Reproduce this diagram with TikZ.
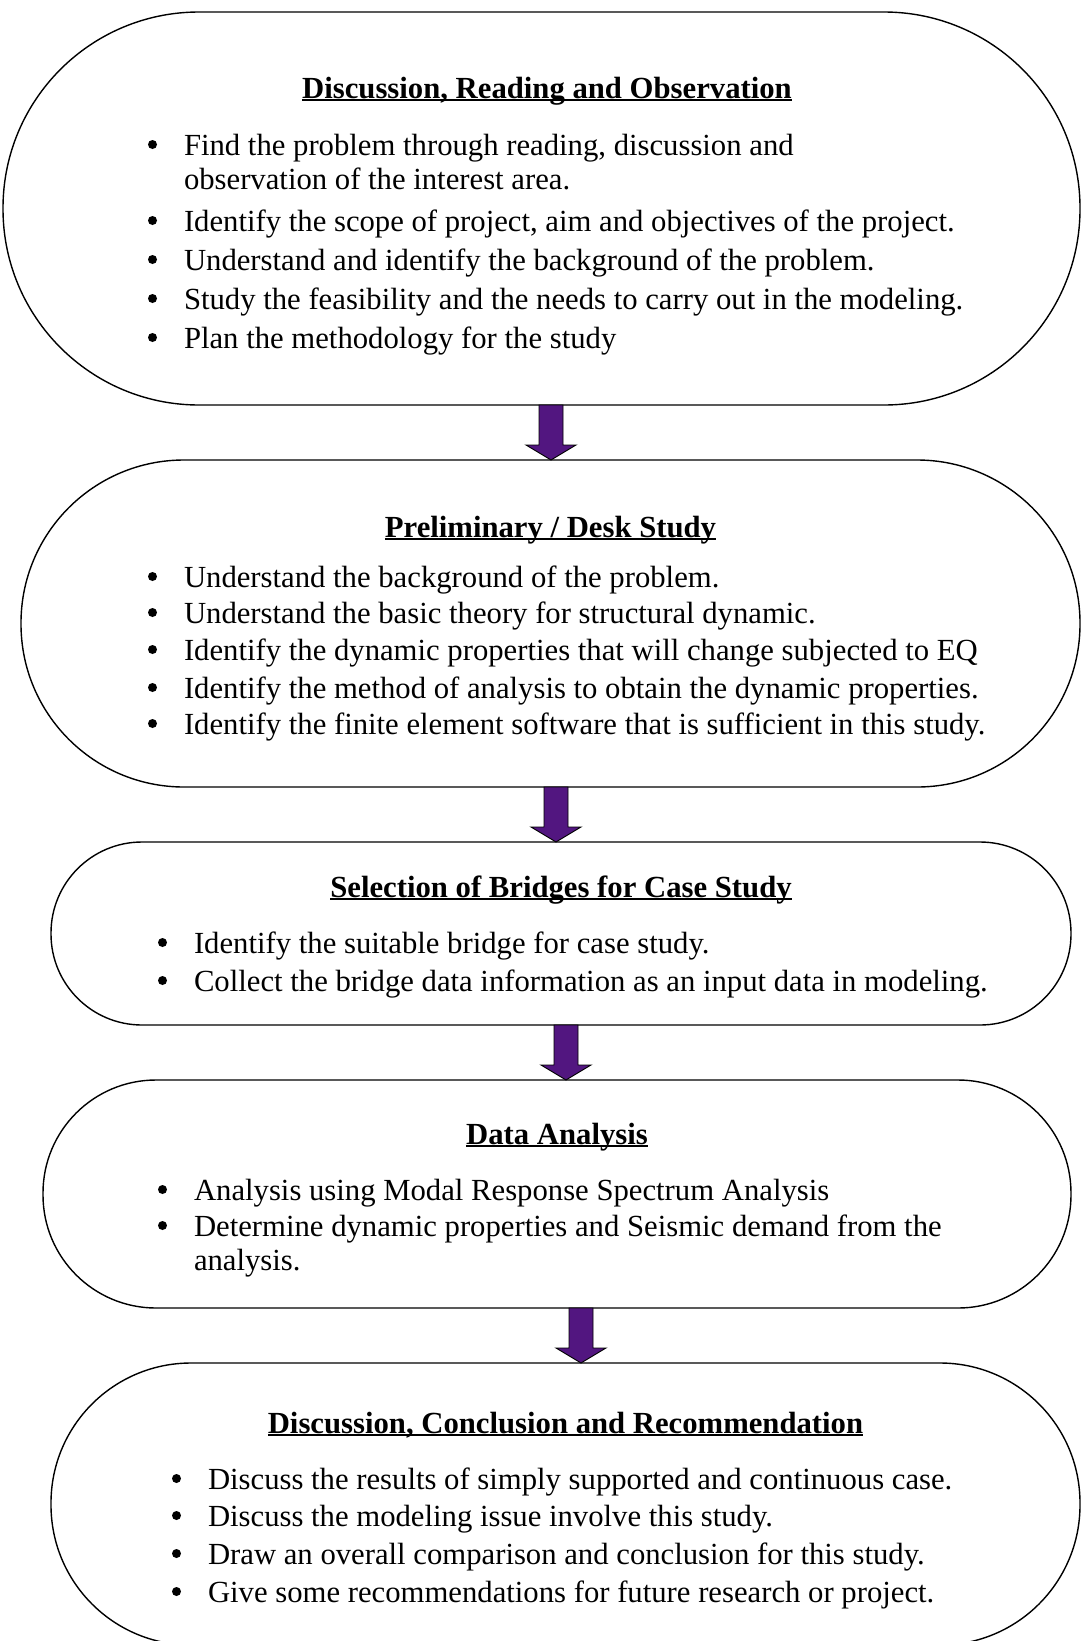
\documentclass[tikz,border=0pt]{standalone}
\usepackage{fontspec}
\setmainfont{Liberation Serif}
\usetikzlibrary{calc}
\definecolor{arrowpurple}{RGB}{82,22,128}
\newcommand\ttl[1]{\setbox0=\hbox{\bfseries #1}\rlap{\copy0}\rule[-3.2pt]{\wd0}{1.8pt}}
\tikzset{
  box/.style={draw=black, line width=1.4pt, fill=white, inner sep=0pt, outer sep=0pt},
  blockarrow/.style={draw=black, line width=0.9pt, fill=arrowpurple},
  txt/.style={font=\fontsize{30.7}{36}\selectfont, inner sep=0pt, outer sep=0pt, anchor=base west},
  ttlsty/.style={font=\fontsize{30.7}{36}\selectfont, inner sep=0pt, outer sep=0pt, anchor=base},
  bul/.style={circle, fill=black, inner sep=0pt, outer sep=0pt, minimum size=9pt, yshift=10.5pt, xshift=5.5pt}
}
\newcommand\barrow[4]{%
  \coordinate (#1s) at (#2,#3);
  \coordinate (#1t) at (#2,#4);
  \filldraw[blockarrow] ($(#1s)+(-12,0)$) -- ($(#1s)+(12,0)$) -- ($(#1t)+(12,-15)$) -- ($(#1t)+(25,-15)$) -- (#1t) -- ($(#1t)+(-25,-15)$) -- ($(#1t)+(-12,-15)$) -- cycle;}
\begin{document}
\begin{tikzpicture}[x=1pt,y=-1pt]
\path[use as bounding box, clip] (0,0) rectangle (1081,1641);
\fill[white] (0,0) rectangle (1081,1641);

% boxes
\node[box, minimum width=1077, minimum height=393, rounded corners=196] (b1) at (541.5,208.5) {};
\node[box, minimum width=1059, minimum height=327, rounded corners=163] (b2) at (550.5,623.5) {};
\node[box, minimum width=1020, minimum height=183, rounded corners=91] (b3) at (561,933.5) {};
\node[box, minimum width=1028, minimum height=228, rounded corners=113] (b4) at (557,1194) {};
\node[box, minimum width=1029, minimum height=282, rounded corners=140] (b5) at (565.5,1504) {};

% arrows
\barrow{a1}{551}{405}{460}
\barrow{a2}{556}{787}{842}
\barrow{a3}{566}{1025}{1080}
\barrow{a4}{581}{1308}{1363}

% box 1
\node[ttlsty] (t1) at (547,98) {\ttl{Discussion, Reading and Observation}};
\node[bul] (p11) at (147,155) {};
\node[txt] (l11) at (184,155) {Find the problem through reading, discussion and};
\node[txt] (l11b) at (184,189) {observation of the interest area.};
\node[bul] (p12) at (147,231) {};
\node[txt] (l12) at (184,231) {Identify the scope of project, aim and objectives of the project.};
\node[bul] (p13) at (147,270) {};
\node[txt] (l13) at (184,270) {Understand and identify the background of the problem.};
\node[bul] (p14) at (147,309) {};
\node[txt] (l14) at (184,309) {Study the feasibility and the needs to carry out in the modeling.};
\node[bul] (p15) at (147,348) {};
\node[txt] (l15) at (184,348) {Plan the methodology for the study};

% box 2
\node[ttlsty] (t2) at (550.5,537) {\ttl{Preliminary / Desk Study}};
\node[bul] (p21) at (147,587) {};
\node[txt] (l21) at (184,587) {Understand the background of the problem.};
\node[bul] (p22) at (147,623) {};
\node[txt] (l22) at (184,623) {Understand the basic theory for structural dynamic.};
\node[bul] (p23) at (147,660) {};
\node[txt] (l23) at (184,660) {Identify the dynamic properties that will change subjected to EQ};
\node[bul] (p24) at (147,698) {};
\node[txt] (l24) at (184,698) {Identify the method of analysis to obtain the dynamic properties.};
\node[bul] (p25) at (147,734) {};
\node[txt] (l25) at (184,734) {Identify the finite element software that is sufficient in this study.};

% box 3
\node[ttlsty] (t3) at (561,897) {\ttl{Selection of Bridges for Case Study}};
\node[bul] (p31) at (157,953) {};
\node[txt] (l31) at (194,953) {Identify the suitable bridge for case study.};
\node[bul] (p32) at (157,991) {};
\node[txt] (l32) at (194,991) {Collect the bridge data information as an input data in modeling.};

% box 4
\node[ttlsty] (t4) at (557,1144) {\ttl{Data Analysis}};
\node[bul] (p41) at (157,1200) {};
\node[txt] (l41) at (194,1200) {Analysis using Modal Response Spectrum Analysis};
\node[bul] (p42) at (157,1236) {};
\node[txt] (l42) at (194,1236) {Determine dynamic properties and Seismic demand from the};
\node[txt] (l42b) at (194,1270) {analysis.};

% box 5
\node[ttlsty] (t5) at (565.5,1433) {\ttl{Discussion, Conclusion and Recommendation}};
\node[bul] (p51) at (171,1489) {};
\node[txt] (l51) at (208,1489) {Discuss the results of simply supported and continuous case.};
\node[bul] (p52) at (171,1526) {};
\node[txt] (l52) at (208,1526) {Discuss the modeling issue involve this study.};
\node[bul] (p53) at (171,1564) {};
\node[txt] (l53) at (208,1564) {Draw an overall comparison and conclusion for this study.};
\node[bul] (p54) at (171,1602) {};
\node[txt] (l54) at (208,1602) {Give some recommendations for future research or project.};
\end{tikzpicture}
\end{document}
